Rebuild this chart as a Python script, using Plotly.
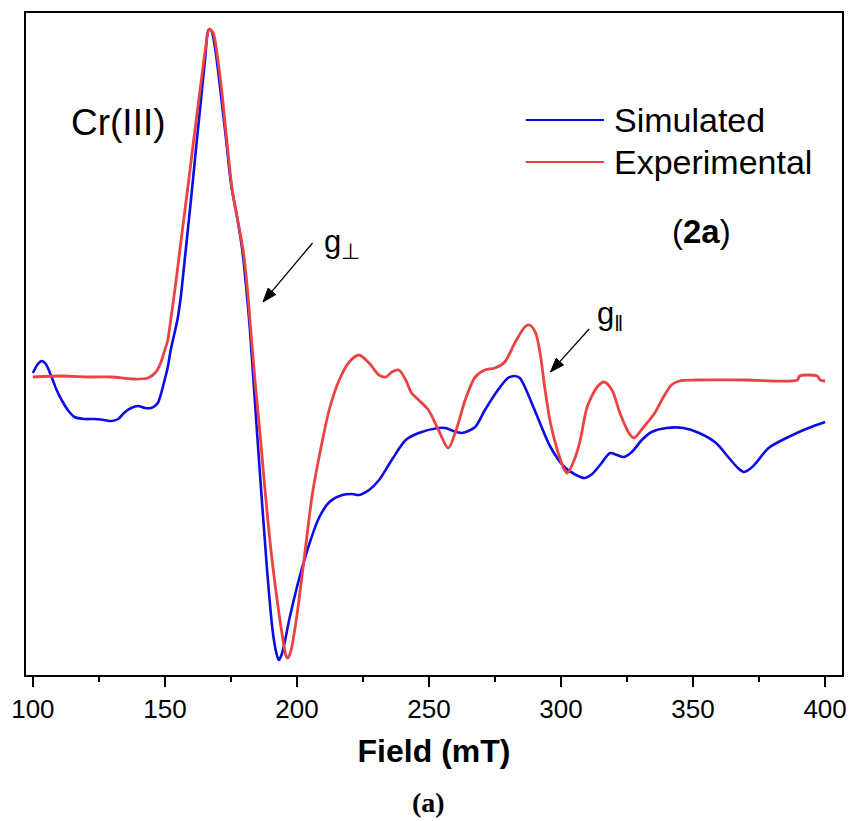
import math
import plotly.graph_objects as go

# ---------------- data ----------------
exp_field = [100.0, 110.9, 122.2, 129.7, 137.9, 143.6, 146.6, 148.4, 149.6, 151.1, 152.2, 153.3,
             154.5, 156.0, 157.3, 158.6, 159.7, 160.8, 162.1, 163.5, 165.3, 166.8, 168.3, 169.8,
             171.7, 173.6, 175.5, 177.7, 179.6, 181.1, 182.2, 184.1, 186.0, 188.6, 190.9, 194.3,
             195.8, 196.5, 197.6, 199.9, 202.9, 205.9, 209.3, 212.3, 216.0, 219.8, 223.5, 227.3,
             231.1, 233.7, 235.9, 238.6, 241.2, 243.4, 246.1, 249.8, 253.6, 257.3, 260.3, 263.7,
             267.5, 271.2, 275.0, 278.7, 282.5, 286.3, 288.1, 290.4, 292.3, 293.8, 296.0, 298.6,
             301.3, 302.4, 305.0, 307.3, 309.9, 313.7, 316.3, 319.3, 322.3, 325.7, 327.6, 331.3,
             335.5, 338.8, 341.8, 344.8, 351.2, 370.0, 389.5, 390.3, 397.0, 398.2, 400.0]
exp_signal = [0, 1, 0, 0, -2, -1, 5, 14, 24, 37, 57, 78,
              102, 134, 161, 188, 211, 235, 262, 291, 327, 348, 344, 322,
              282, 232, 187, 155, 127, 92, 57, -3, -56, -133, -190, -256,
              -278, -281, -275, -240, -178, -116, -68, -32, -3, 15, 22, 14,
              2, 0, 5, 7, -3, -16, -23, -33, -53, -71, -53, -23,
              0, 7, 9, 15, 34, 50, 52, 44, 20, -10, -46, -73,
              -93, -96, -83, -63, -30, -10, -5, -13, -36, -56, -61, -50,
              -36, -20, -8, -4, -3, -3, -3, 1, 1, -3, -4]

sim_field = [100.0, 101.9, 103.4, 104.9, 107.1, 109.0, 110.9, 113.5, 115.8, 119.5, 123.3, 127.0,
             129.7, 132.3, 134.5, 137.2, 139.8, 142.4, 144.7, 146.2, 147.3, 148.4, 149.6, 151.1,
             152.2, 154.8, 156.0, 157.3, 158.6, 159.7, 160.8, 162.1, 163.5, 165.3, 166.5, 167.6,
             169.1, 171.0, 173.2, 175.1, 177.4, 179.2, 180.7, 182.2, 184.9, 188.6, 190.9, 192.4,
             193.1, 194.3, 197.3, 201.0, 204.8, 208.5, 212.3, 217.2, 220.9, 223.5, 227.3, 231.1,
             235.9, 241.2, 246.1, 253.6, 256.2, 259.2, 262.2, 264.9, 267.5, 271.2, 276.1, 279.9,
             282.5, 284.4, 286.3, 291.1, 296.0, 301.3, 305.0, 308.8, 311.8, 314.8, 318.6, 321.2,
             323.8, 326.8, 330.6, 334.3, 340.0, 346.3, 352.3, 358.7, 363.6, 367.0, 369.2, 371.5,
             373.8, 378.6, 386.1, 393.7, 400.0]
sim_signal = [4, 13, 16, 13, 0, -13, -23, -34, -40, -42, -42, -43,
              -44, -42, -36, -31, -29, -31, -31, -29, -26, -18, -6, 10,
              27, 58, 80, 112, 145, 173, 202, 237, 273, 320, 347, 346,
              327, 287, 237, 192, 159, 129, 92, 47, -56, -190, -256, -278,
              -283, -277, -240, -200, -166, -140, -125, -118, -117, -118, -113, -103,
              -83, -63, -56, -51, -51, -54, -56, -54, -50, -33, -13, -1,
              1, -1, -10, -40, -70, -90, -97, -101, -97, -88, -76, -78,
              -80, -75, -63, -55, -51, -51, -56, -66, -81, -91, -95, -92,
              -86, -71, -60, -51, -45]

x_ticks = [100, 150, 200, 250, 300, 350, 400]
series_names = ["Simulated", "Experimental"]

BLUE = "#0c0ce6"
RED = "#ea4343"
SANS = "Arial, Liberation Sans, sans-serif"
SERIF = "Times New Roman, Liberation Serif, serif"

W, H = 858, 821
ML, MR, MT, MB = 24, 11, 13, 146
PW, PH = W - ML - MR, H - MT - MB


def to_paper(px, py):
    return (px - ML) / PW, (H - MB - py) / PH


fig = go.Figure()
fig.add_trace(go.Scatter(x=sim_field, y=sim_signal, mode="lines", name=series_names[0],
                         line=dict(color=BLUE, width=2.6, shape="spline", smoothing=0.8),
                         showlegend=False))
fig.add_trace(go.Scatter(x=exp_field, y=exp_signal, mode="lines", name=series_names[1],
                         line=dict(color=RED, width=2.8, shape="spline", smoothing=0.8),
                         showlegend=False))

fig.update_layout(
    width=W, height=H,
    margin=dict(l=ML, r=MR, t=MT, b=MB),
    paper_bgcolor="white", plot_bgcolor="white",
    font=dict(family=SANS, color="black"),
    xaxis=dict(range=[97.4, 406.4], tickvals=x_ticks, ticks="outside", ticklen=10, tickwidth=2,
               tickcolor="black", showline=True, linewidth=2, linecolor="black", mirror=True,
               showgrid=False, zeroline=False, tickfont=dict(size=26, family=SANS),
               minor=dict(dtick=25, tick0=100, ticks="outside", ticklen=5, tickwidth=2, tickcolor="black"),
               title=dict(text="<b>Field (mT)</b>", font=dict(size=32, family=SANS), standoff=16)),
    yaxis=dict(range=[-298, 364], showticklabels=False, ticks="", showline=True, linewidth=2,
               linecolor="black", mirror=True, showgrid=False, zeroline=False),
)

# manual legend (long line samples as in the reference)
for py, col, name in [(120, BLUE, series_names[0]), (162, RED, series_names[1])]:
    x0, yy = to_paper(528, py)
    x1, _ = to_paper(607, py)
    xt, _ = to_paper(615, py)
    fig.add_shape(type="line", xref="paper", yref="paper", x0=x0, x1=x1, y0=yy, y1=yy,
                  line=dict(color=col, width=2.2))
    fig.add_annotation(xref="paper", yref="paper", x=xt, y=yy, text=name, showarrow=False,
                       xanchor="left", yanchor="middle", font=dict(size=34, family=SANS, color="black"))


def text_at(px, py, text, size, family=SANS, xanchor="center"):
    xp, yp = to_paper(px, py)
    fig.add_annotation(xref="paper", yref="paper", x=xp, y=yp, text=text, showarrow=False,
                       xanchor=xanchor, yanchor="middle", borderpad=0,
                       font=dict(size=size, family=family, color="black"))


def arrow(tail, tip, head_len=14, head_half=5):
    dx, dy = tip[0] - tail[0], tip[1] - tail[1]
    L = math.hypot(dx, dy)
    ux, uy = dx / L, dy / L
    bx, by = tip[0] - head_len * ux, tip[1] - head_len * uy
    nx, ny = -uy, ux
    t0 = to_paper(*tail)
    b0 = to_paper(bx, by)
    fig.add_shape(type="line", xref="paper", yref="paper", x0=t0[0], y0=t0[1], x1=b0[0], y1=b0[1],
                  line=dict(color="black", width=1.3))
    p1 = to_paper(*tip)
    p2 = to_paper(bx + head_half * nx, by + head_half * ny)
    p3 = to_paper(bx - head_half * nx, by - head_half * ny)
    path = f"M {p1[0]} {p1[1]} L {p2[0]} {p2[1]} L {p3[0]} {p3[1]} Z"
    fig.add_shape(type="path", xref="paper", yref="paper", path=path,
                  fillcolor="black", line=dict(color="black", width=1))


text_at(705, 232, "(<b>2a</b>)", 33)
text_at(117, 122, "Cr(III)", 37)
text_at(324, 244, "g<sub>⊥</sub>", 31, xanchor="left")
arrow((313, 243), (263, 302))
text_at(599, 316, "g<sub>‖</sub>", 31, xanchor="left")
arrow((592, 329), (553, 372))
text_at(430, 802, "<b>(a)</b>", 28, family=SERIF)

fig.write_html("out.html")
